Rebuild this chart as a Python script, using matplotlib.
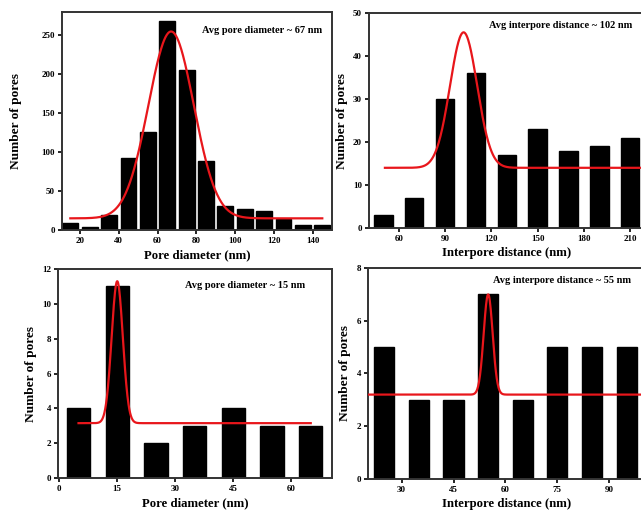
import numpy as np
from matplotlib import pyplot as plt

plt.rcParams['font.family'] = ['Liberation Serif', 'DejaVu Serif']
plt.rcParams['font.weight'] = 'bold'
plt.rcParams['axes.labelweight'] = 'bold'

# panel a - pore diameter, big pores
a_centers = [15, 25, 35, 45, 55, 65, 75, 85, 95, 105, 115, 125, 135, 145]
a_counts = [9, 4, 19, 92, 126, 269, 206, 89, 31, 27, 25, 14, 6, 6]
a_fit = (15, 240, 67, 11.7)  # baseline, amplitude, centre, sigma

# panel b - interpore distance, big pores
b_centers = [50, 70, 90, 110, 130, 150, 170, 190, 210]
b_counts = [3, 7, 30, 36, 17, 23, 18, 19, 21]
b_fit = (14, 31.5, 102, 8.8)

# panel c - pore diameter, small pores
c_centers = [5, 15, 25, 35, 45, 55, 65]
c_counts = [4, 11, 2, 3, 4, 3, 3]
c_fit = (3.15, 8.15, 15, 1.45)

# panel d - interpore distance, small pores
d_centers = [25, 35, 45, 55, 65, 75, 85, 95]
d_counts = [5, 3, 3, 7, 3, 5, 5, 5]
d_fit = (3.2, 3.8, 55, 1.3)

fig = plt.figure(figsize=(6.41, 5.14), dpi=100)


def gauss(x, p):
    y0, amp, xc, s = p
    return y0 + amp * np.exp(-(x - xc) ** 2 / (2 * s ** 2))


def panel(rect, centers, counts, width, fit, fitrange, xlim, ylim, xticks, yticks, xlabel, note, notepos, ypad=4):
    ax = fig.add_axes(rect)
    ax.bar(centers, counts, width=width, color='black', edgecolor='black', zorder=2)
    xs = np.linspace(fitrange[0], fitrange[1], 600)
    ax.plot(xs, gauss(xs, fit), color='#e8161b', lw=1.6, zorder=3)
    ax.set_xlim(xlim)
    ax.set_ylim(ylim)
    ax.set_xticks(xticks)
    ax.set_yticks(yticks)
    ax.tick_params(labelsize=6.5, length=3, width=1.2, direction='out', pad=2)
    for sp in ax.spines.values():
        sp.set_linewidth(1.4)
        sp.set_color('#333333')
    ax.set_xlabel(xlabel, fontsize=9.2, labelpad=3)
    ax.set_ylabel('Number of pores', fontsize=9.6, labelpad=ypad)
    ax.text(notepos[0], notepos[1], note, transform=ax.transAxes, ha='right', va='center',
            fontsize=7.5, fontweight='bold')
    return ax


panel([0.0967, 0.5525, 0.4212, 0.4241], a_centers, a_counts, 8.2, a_fit, (15, 145),
      (10.7, 150), (0, 280), [20, 40, 60, 80, 100, 120, 140], [0, 50, 100, 150, 200, 250],
      'Pore diameter (nm)', 'Avg pore diameter ~ 67 nm', (0.963, 0.913), ypad=14)

panel([0.5757, 0.5564, 0.4306, 0.4183], b_centers, b_counts, 12, b_fit, (51, 225),
      (40.7, 219.6), (0, 50), [60, 90, 120, 150, 180, 210], [0, 10, 20, 30, 40, 50],
      'Interpore distance (nm)', 'Avg interpore distance ~ 102 nm', (0.955, 0.944))

panel([0.0905, 0.0700, 0.4275, 0.4066], c_centers, c_counts, 6, c_fit, (5, 65),
      (-0.3, 70.5), (0, 12), [0, 15, 30, 45, 60], [0, 2, 4, 6, 8, 10, 12],
      'Pore diameter (nm)', 'Avg pore diameter ~ 15 nm', (0.90, 0.92))

panel([0.5741, 0.0681, 0.4322, 0.4105], d_centers, d_counts, 5.8, d_fit, (20.3, 101),
      (20.3, 100.3), (0, 8), [30, 45, 60, 75, 90], [0, 2, 4, 6, 8],
      'Interpore distance (nm)', 'Avg interpore distance ~ 55 nm', (0.95, 0.943))

fig.savefig('out.png', dpi=100)
